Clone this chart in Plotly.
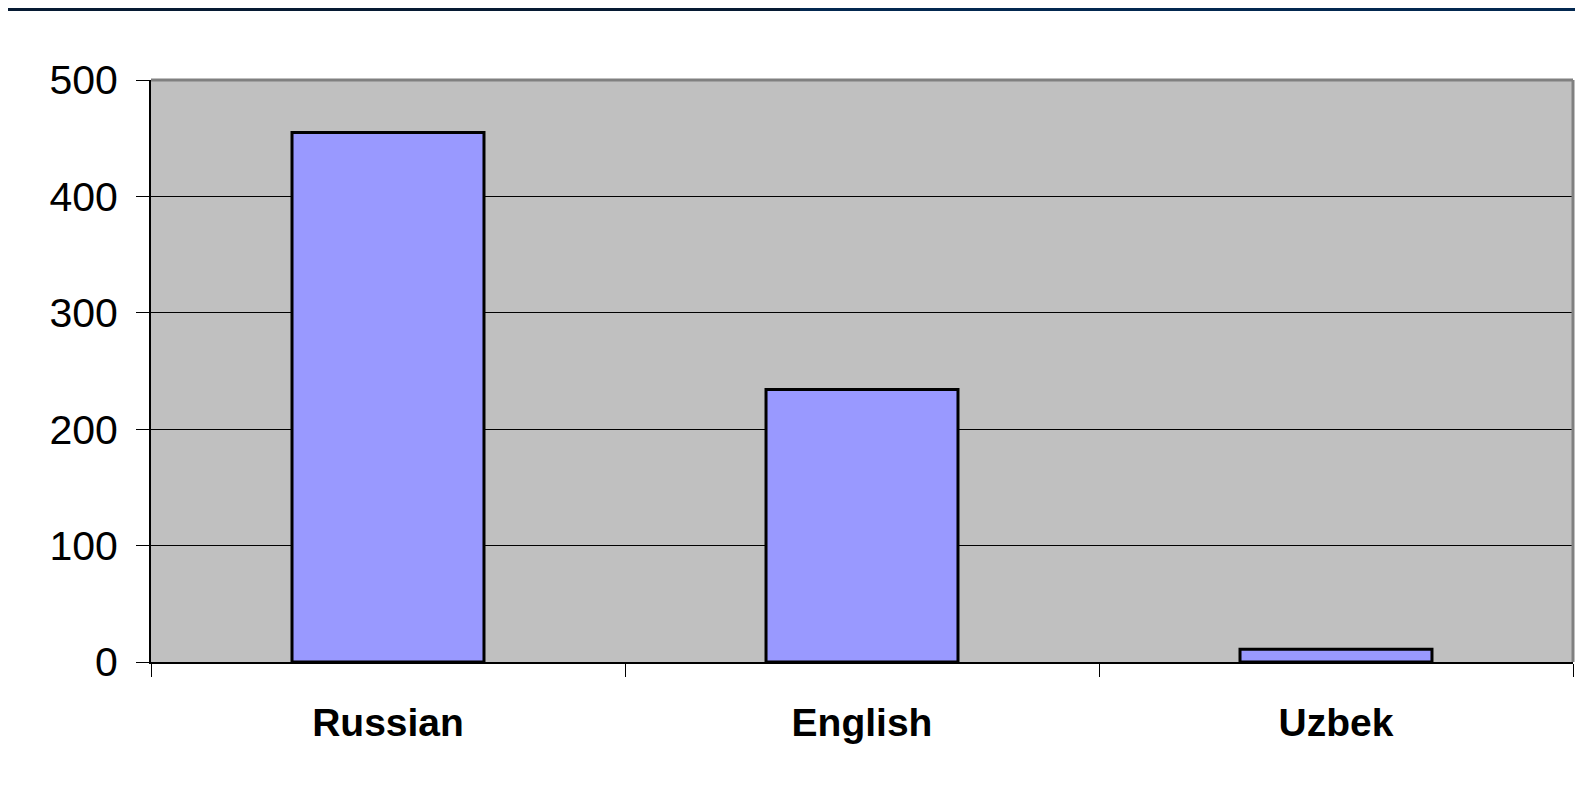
import plotly.graph_objects as go

categories = ["Russian", "English", "Uzbek"]
values = [455, 234, 11]
y_ticks = [0, 100, 200, 300, 400, 500]

# page body has an 8px margin; compensate so the plot lands where the reference has it
OFF = 8
W, H = 1583 - OFF, 788 - OFF
L, R, T, B = 151 - OFF, 10, 80 - OFF, 126
pw, ph = W - L - R, H - T - B

def px_x(x):
    return (x - OFF - L) / pw

def px_y(y):
    return (H - B - (y - OFF)) / ph

fig = go.Figure()
fig.add_trace(go.Bar(
    x=categories, y=values,
    marker=dict(color="#9999ff", line=dict(color="#000000", width=3)),
    width=0.405,
))

shapes = []
shapes.append(dict(type="line", xref="paper", yref="paper", x0=0, x1=1, y0=1, y1=1,
                   line=dict(color="#808080", width=3), layer="above"))
shapes.append(dict(type="line", xref="paper", yref="paper", x0=1, x1=1, y0=0, y1=1,
                   line=dict(color="#808080", width=3), layer="above"))
# dark slide border strip at the top (what remains visible after the page margin)
shapes.append(dict(type="rect", xref="paper", yref="paper",
                   x0=px_x(0), x1=px_x(800), y0=px_y(11), y1=px_y(0),
                   fillcolor="#061a33", line=dict(width=0), layer="above"))
shapes.append(dict(type="rect", xref="paper", yref="paper",
                   x0=px_x(800), x1=px_x(1600), y0=px_y(11), y1=px_y(0),
                   fillcolor="#032850", line=dict(width=0), layer="above"))

fig.update_layout(
    width=W, height=H,
    margin=dict(l=L, r=R, t=T, b=B, pad=0),
    paper_bgcolor="#ffffff",
    plot_bgcolor="#c0c0c0",
    showlegend=False,
    bargap=0.595,
    shapes=shapes,
    font=dict(family="Liberation Sans, Arial, sans-serif", color="#000000"),
    xaxis=dict(
        type="category",
        showline=True, linecolor="#000000", linewidth=2,
        ticks="outside", ticklen=13, tickcolor="#000000", tickwidth=1,
        tickson="boundaries",
        tickfont=dict(size=39, family="Liberation Sans, Arial, sans-serif"),
        ticklabelstandoff=25,
        showgrid=False,
        tickprefix="<b>", ticksuffix="</b>",
        fixedrange=True,
    ),
    yaxis=dict(
        range=[0, 500],
        tickvals=y_ticks,
        showline=True, linecolor="#000000", linewidth=2,
        ticks="outside", ticklen=13, tickcolor="#000000", tickwidth=1,
        tickfont=dict(size=41, family="Liberation Sans, Arial, sans-serif"),
        ticklabelstandoff=10,
        showgrid=True, gridcolor="#000000", gridwidth=1,
        zeroline=False,
        fixedrange=True,
    ),
)

fig.write_html("out.html")
